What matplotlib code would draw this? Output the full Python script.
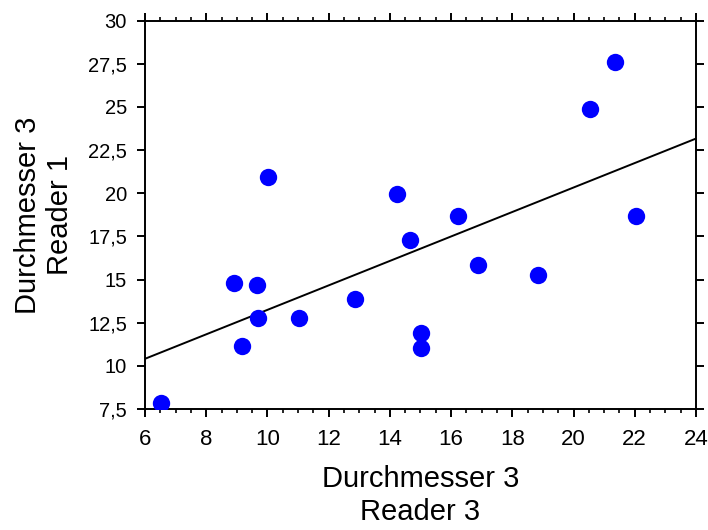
import numpy as np
import matplotlib
matplotlib.use("Agg")
import matplotlib.pyplot as plt
from matplotlib.ticker import MultipleLocator, FuncFormatter

plt.rcParams['font.family'] = ['Liberation Sans', 'DejaVu Sans']

# Data: Durchmesser 3, Reader 3 (x) vs Reader 1 (y)
reader3 = [6.52, 8.91, 9.16, 9.65, 9.70, 10.03, 11.03, 12.87, 14.22, 14.66,
           15.02, 15.02, 16.22, 16.89, 18.84, 20.53, 21.34, 22.03]
reader1 = [7.86, 14.78, 11.15, 14.67, 12.79, 20.92, 12.79, 13.86, 19.96, 17.27,
           11.89, 11.02, 18.68, 15.84, 15.26, 24.88, 27.59, 18.68]

x_ticks = [6, 8, 10, 12, 14, 16, 18, 20, 22, 24]
y_ticks = [7.5, 10, 12.5, 15, 17.5, 20, 22.5, 25, 27.5, 30]

fig = plt.figure(figsize=(7.08, 5.30), dpi=100)
ax = fig.add_axes([0.2048, 0.2283, 0.983 - 0.2048, 0.961 - 0.2283])

x = np.array(reader3)
y = np.array(reader1)
slope, intercept = np.polyfit(x, y, 1)
xl = np.array([x_ticks[0], x_ticks[-1]])
ax.plot(xl, intercept + slope * xl, color='black', lw=1.4, zorder=2)
ax.plot(x, y, 'o', color='#0000ff', ms=12.5, mec='#0000ff', mew=0, zorder=3)

ax.set_xlim(x_ticks[0], x_ticks[-1])
ax.set_ylim(y_ticks[0], y_ticks[-1])
ax.set_xticks(x_ticks)
ax.set_yticks(y_ticks)
ax.xaxis.set_minor_locator(MultipleLocator(0.5))
fmt = FuncFormatter(lambda v, p: (('%g' % v).replace('.', ',')))
ax.xaxis.set_major_formatter(fmt)
ax.yaxis.set_major_formatter(fmt)

for s in ax.spines.values():
    s.set_linewidth(1.4)

ax.tick_params(axis='x', which='major', direction='out', length=6, width=1.4,
               top=True, bottom=True, labelsize=16, pad=8.5)
ax.tick_params(axis='x', which='minor', direction='out', length=3.2, width=1.2,
               top=True, bottom=True)
ax.tick_params(axis='y', which='major', direction='out', length=6, width=1.4,
               left=True, right=True, labelsize=14.5, pad=7)

ax.set_xlabel('Durchmesser 3\nReader 3', fontsize=21, labelpad=11, linespacing=1.2)
ax.set_ylabel('Durchmesser 3\nReader 1', fontsize=21, labelpad=10, linespacing=1.2)

fig.savefig('out.png', dpi=100)
